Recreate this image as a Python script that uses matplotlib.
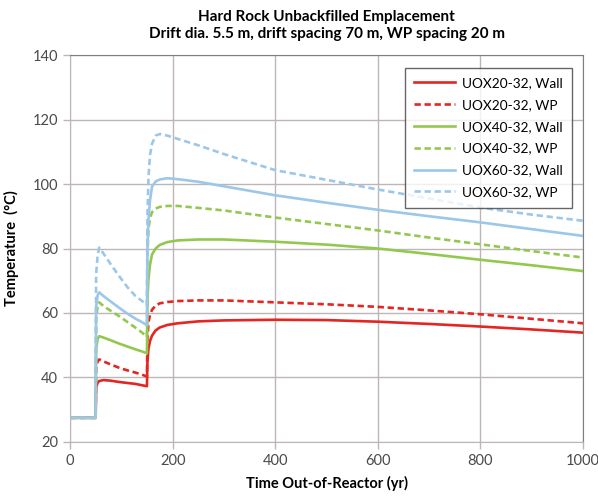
import matplotlib.pyplot as plt

# ------------------------------------------------------------------
# Data
# ------------------------------------------------------------------

years = [0, 50, 51, 54, 57, 65, 80, 96, 112, 128, 140, 150, 151, 153, 156,
         160, 167, 175, 190, 210, 250, 300, 400, 500, 600, 700, 800, 900, 1000]

uox20_wall = [27.5, 27.5, 37.0, 38.4, 38.9, 39.2, 39.0, 38.6, 38.3, 38.0, 37.6, 37.3,
              45.0, 49.0, 51.3, 53.0, 54.6, 55.5, 56.3, 56.8, 57.4, 57.7,
              57.9, 57.8, 57.3, 56.6, 55.8, 54.9, 53.9]
uox20_wp = [27.5, 27.5, 43.0, 45.0, 45.6, 45.0, 44.0, 43.0, 42.2, 41.5, 40.9, 40.3,
            52.0, 57.0, 59.5, 61.0, 62.3, 63.0, 63.4, 63.7, 63.9, 63.9,
            63.3, 62.7, 61.9, 60.8, 59.6, 58.2, 56.8]
uox40_wall = [27.5, 27.5, 49.0, 52.0, 52.8, 52.4, 51.5, 50.5, 49.6, 48.7, 48.1, 47.5,
              64.0, 70.5, 75.0, 78.2, 80.0, 81.1, 82.0, 82.5, 82.8, 82.8,
              82.1, 81.2, 80.0, 78.3, 76.5, 74.8, 73.0]
uox40_wp = [27.5, 27.5, 58.0, 62.3, 63.3, 62.2, 60.6, 59.0, 57.2, 55.4, 54.0, 52.6,
            78.0, 86.0, 89.5, 91.3, 92.4, 92.9, 93.2, 93.2, 92.6, 91.8,
            89.6, 87.6, 85.6, 83.4, 81.3, 79.2, 77.2]
uox60_wall = [27.5, 27.5, 62.0, 65.5, 66.4, 65.3, 63.5, 61.6, 59.8, 58.2, 57.2, 56.2,
              80.0, 89.0, 95.0, 99.2, 100.8, 101.4, 101.8, 101.5, 100.7, 99.3,
              96.5, 94.2, 92.0, 90.0, 88.1, 86.0, 83.9]
uox60_wp = [27.5, 27.5, 72.0, 78.0, 80.3, 78.5, 75.0, 71.4, 68.0, 65.2, 63.8, 62.5,
            90.0, 102.0, 109.0, 112.5, 115.0, 115.5, 115.0, 114.0, 112.0, 109.3,
            104.3, 101.3, 98.3, 95.5, 92.7, 90.5, 88.6]

labels = ["UOX20-32, Wall", "UOX20-32, WP", "UOX40-32, Wall",
          "UOX40-32, WP", "UOX60-32, Wall", "UOX60-32, WP"]

RED = "#E42522"
GREEN = "#93C84F"
BLUE = "#9CC7E8"
GRID = "#BDB6B6"

# ------------------------------------------------------------------
# Plot
# ------------------------------------------------------------------

plt.rcParams["font.family"] = ["Lato", "DejaVu Sans"]

fig = plt.figure(figsize=(5.98, 4.98), dpi=100)
ax = fig.add_axes([0.117, 0.1125, 0.858, 0.777])

series = [uox20_wall, uox20_wp, uox40_wall, uox40_wp, uox60_wall, uox60_wp]
colors = [RED, RED, GREEN, GREEN, BLUE, BLUE]
styles = ["-", "--", "-", "--", "-", "--"]

for vals, lab, c, ls in zip(series, labels, colors, styles):
    ax.plot(years, vals, color=c, linestyle=ls, linewidth=1.9, label=lab,
            dashes=(2.4, 1.4) if ls == "--" else (None, None))

ax.set_xlim(0, 1000)
ax.set_ylim(20, 140)
ax.set_xticks(range(0, 1001, 200))
ax.set_yticks(range(20, 141, 20))
ax.grid(True, color=GRID, linewidth=1.0)
ax.set_axisbelow(True)

for side in ["left", "bottom"]:
    ax.spines[side].set_color(GRID)
for side in ["top", "right"]:
    ax.spines[side].set_color("#7F7F7F")
ax.tick_params(axis="both", colors=GRID, labelcolor="#4A4A4A",
               labelsize=10.5, length=5, width=1.0)

ax.set_xlabel("Time Out-of-Reactor (yr)", fontsize=10.5, fontweight="bold",
              labelpad=6)
ax.set_ylabel("Temperature  (°C)", fontsize=10.5, fontweight="bold",
              labelpad=10)
ax.set_title("Hard Rock Unbackfilled Emplacement\n"
             "Drift dia. 5.5 m, drift spacing 70 m, WP spacing 20 m",
             fontsize=11, fontweight="bold", pad=12, linespacing=1.35)

leg = ax.legend(loc="upper right", bbox_to_anchor=(0.992, 0.985),
                fontsize=9.8, frameon=True, fancybox=False,
                handlelength=3.0, handletextpad=0.5, labelspacing=0.72,
                borderpad=0.7)
leg.get_frame().set_edgecolor("#404040")
leg.get_frame().set_linewidth(1.0)

fig.savefig("out.png", dpi=100)
